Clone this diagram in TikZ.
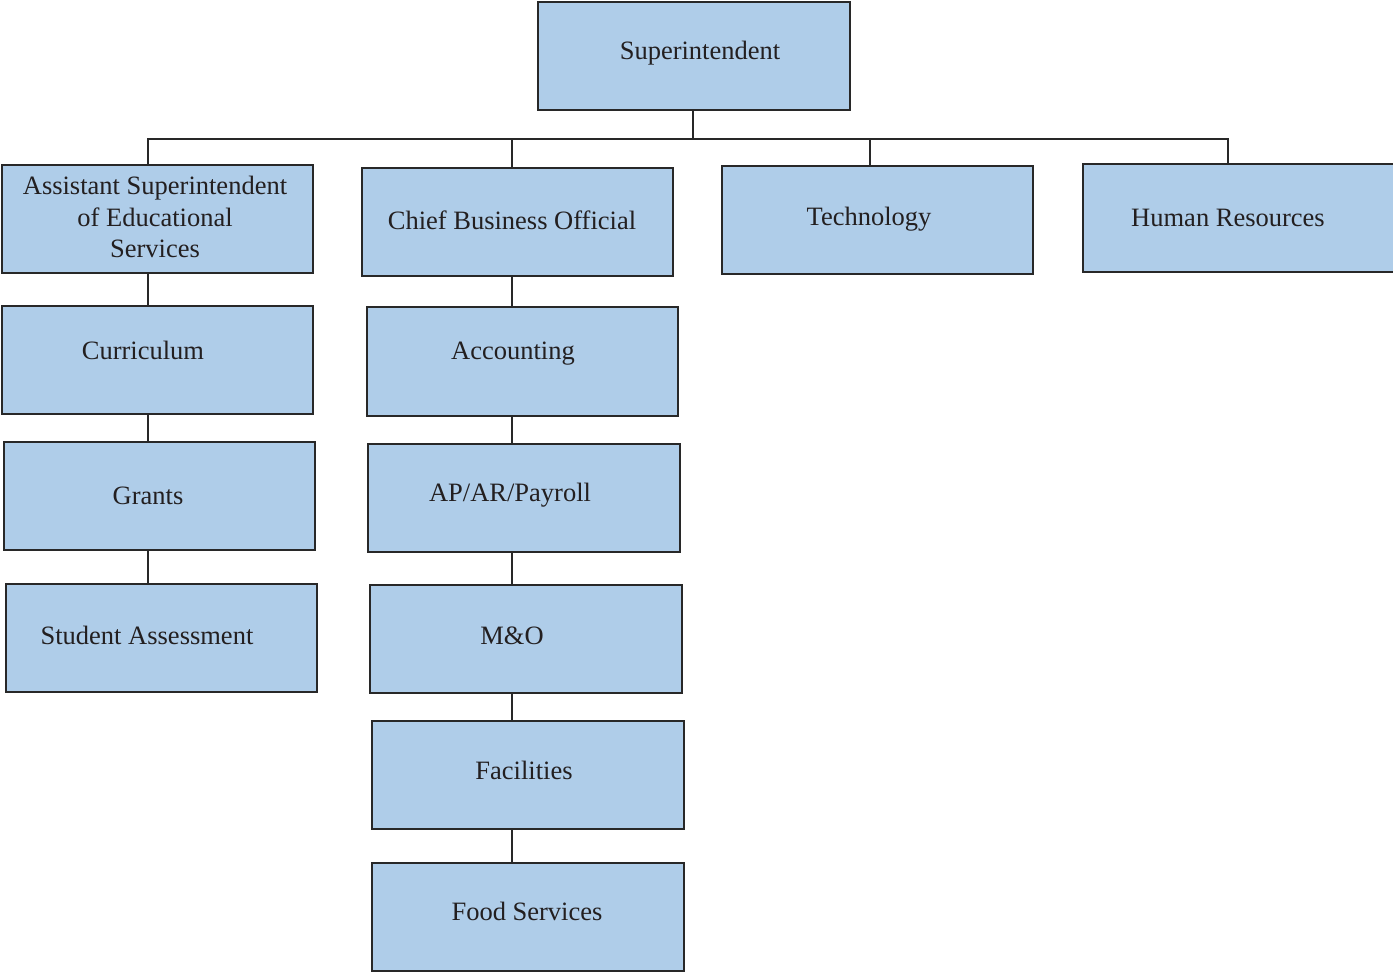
\documentclass[tikz,border=0pt]{standalone}
\usepackage{fontspec}
\setmainfont{Liberation Serif}
\definecolor{boxfill}{RGB}{175,205,233}
\definecolor{boxline}{RGB}{40,40,40}
\definecolor{txtcol}{RGB}{35,31,32}
\begin{document}
\begin{tikzpicture}[x=1pt,y=-1pt,
  box/.style={draw=boxline,fill=boxfill,line width=1.4pt,inner sep=0pt,outer sep=0pt,
    rectangle,minimum height=108pt},
  txt/.style={anchor=base,inner sep=0pt,text=txtcol,font=\fontsize{26.5}{32}\selectfont},
  conn/.style={draw=boxline,line width=1.3pt}]
\useasboundingbox (0,0) rectangle (1393,973);
% boxes
\node[box,minimum width=312pt] (sup) at (694,56) {};
\node[box,minimum width=311pt] (as) at (157.5,219) {};
\node[box,minimum width=311pt] (cbo) at (517.5,222) {};
\node[box,minimum width=311pt] (tech) at (877.5,220) {};
\node[box,minimum width=313pt] (hr) at (1239.5,218) {};
\node[box,minimum width=311pt] (cur) at (157.5,360) {};
\node[box,minimum width=311pt] (gr) at (159.5,496) {};
\node[box,minimum width=311pt] (sa) at (161.5,638) {};
\node[box,minimum width=311pt,minimum height=109pt] (acc) at (522.5,361.5) {};
\node[box,minimum width=312pt] (ap) at (524,498) {};
\node[box,minimum width=312pt] (mo) at (526,639) {};
\node[box,minimum width=312pt] (fac) at (528,775) {};
\node[box,minimum width=312pt] (food) at (528,917) {};
% texts
\node[txt] (tsup) at (700,60) {Superintendent};
\node[txt] (tas1) at (155,195) {Assistant Superintendent};
\node[txt] (tas2) at (155,227) {of Educational};
\node[txt] (tas3) at (155,258) {Services};
\node[txt] (tcbo) at (512,230) {Chief Business Official};
\node[txt] (ttech) at (869,226) {Technology};
\node[txt] (thr) at (1228,227) {Human Resources};
\node[txt] (tcur) at (143,360) {Curriculum};
\node[txt] (tgr) at (148,504) {Grants};
\node[txt] (tsa) at (147,644) {Student Assessment};
\node[txt] (tacc) at (513,360) {Accounting};
\node[txt] (tap) at (510,502) {AP/AR/Payroll};
\node[txt] (tmo) at (512,644) {M\&O};
\node[txt] (tfac) at (524,779) {Facilities};
\node[txt] (tfood) at (527,920) {Food Services};
% connector columns and bus
\coordinate (xs) at (693,0);
\coordinate (xl) at (148,0);
\coordinate (xm) at (512,0);
\coordinate (xt) at (870,0);
\coordinate (xh) at (1228,0);
\coordinate (bus) at (0,139);
\draw[conn] (sup.south -| xs) -- (bus -| xs);
\draw[conn] (as.north -| xl) -- (bus -| xl) -- (bus -| xh) -- (hr.north -| xh);
\draw[conn] (bus -| xm) -- (cbo.north -| xm);
\draw[conn] (bus -| xt) -- (tech.north -| xt);
\draw[conn] (as.south -| xl) -- (cur.north -| xl);
\draw[conn] (cur.south -| xl) -- (gr.north -| xl);
\draw[conn] (gr.south -| xl) -- (sa.north -| xl);
\draw[conn] (cbo.south -| xm) -- (acc.north -| xm);
\draw[conn] (acc.south -| xm) -- (ap.north -| xm);
\draw[conn] (ap.south -| xm) -- (mo.north -| xm);
\draw[conn] (mo.south -| xm) -- (fac.north -| xm);
\draw[conn] (fac.south -| xm) -- (food.north -| xm);
\end{tikzpicture}
\end{document}
